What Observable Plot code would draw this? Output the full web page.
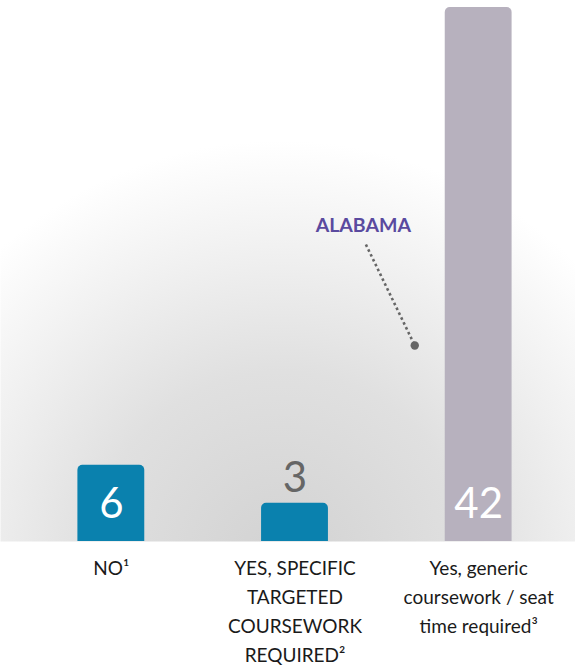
<!DOCTYPE html>
<html>
<head>
<meta charset="utf-8">
<script src="https://cdn.jsdelivr.net/npm/d3@7"></script>
<script src="https://cdn.jsdelivr.net/npm/@observablehq/plot@0.6"></script>
<style>
  html, body { margin: 0; padding: 0; background: #fff; }
  #chart svg { display: block; }
</style>
</head>
<body>
<div id="chart"></div>
<script>
// ---- data ----
const categories = [
  "NO\u00B9",
  "YES, SPECIFIC\nTARGETED\nCOURSEWORK\nREQUIRED\u00B2",
  "Yes, generic\ncoursework / seat\ntime required\u00B3"
];
const values = [6, 3, 42];
const barColors = ["#0a81ae", "#0a81ae", "#b7b1be"];
const annotationLabel = "ALABAMA";
const annotationText = [{x: 1.372, y: 24.85}];
const annotationLine = [{x1: 1.386, y1: 23.36, x2: 1.652, y2: 15.42}];

const data = values.map((v, i) => ({i, cat: categories[i], value: v, color: barColors[i]}));
const half = 0.182;

const svg = Plot.plot({
  width: 575,
  height: 668,
  marginTop: 7,
  marginBottom: 127,
  marginLeft: 19,
  marginRight: 5,
  style: {fontFamily: "Lato, sans-serif", background: "#fff"},
  x: {domain: [-0.5, 2.5], axis: null},
  y: {domain: [0, 42], axis: null},
  marks: [
    Plot.frame({fill: "url(#bgGrad)", stroke: null, insetLeft: -19, insetRight: -5, insetTop: -7}),
    Plot.rectY(data, {
      x1: d => d.i - half, x2: d => d.i + half, y1: 0, y2: "value",
      fill: "color", ry2: 5
    }),
    Plot.text(data.filter(d => d.value >= 5), {
      x: "i", y: 0, text: d => String(d.value), dy: -37,
      fill: "#fff", fontSize: 42, fontFamily: "Lato, sans-serif"
    }),
    Plot.text(data.filter(d => d.value < 5), {
      x: "i", y: "value", text: d => String(d.value), dy: -25,
      fill: "#666", fontSize: 42, fontFamily: "Lato, sans-serif"
    }),
    Plot.text(data, {
      x: "i", y: 0, text: "cat", lineAnchor: "top", dy: 13,
      lineHeight: 1.53, fontSize: 19, fill: "#1a1a1a", fontFamily: "Lato, sans-serif"
    }),
    Plot.link(annotationLine, {
      x1: "x1", y1: "y1", x2: "x2", y2: "y2",
      stroke: "#666", strokeWidth: 2.6, strokeDasharray: "2.6,2.8"
    }),
    Plot.dot(annotationLine, {x: "x2", y: "y2", r: 4.2, fill: "#666", stroke: null}),
    Plot.text(annotationText, {
      x: "x", y: "y", text: () => annotationLabel,
      fill: "#5a4a9f", fontSize: 19.5, fontWeight: "bold", fontFamily: "Lato, sans-serif"
    })
  ]
});

d3.select(svg).insert("defs", ":first-child").html(`
  <radialGradient id="bgGrad" gradientUnits="userSpaceOnUse" cx="280" cy="560" r="420">
    <stop offset="0" stop-color="#d2d2d2"/>
    <stop offset="0.45" stop-color="#e0e0e0"/>
    <stop offset="0.75" stop-color="#f1f1f1"/>
    <stop offset="1" stop-color="#ffffff"/>
  </radialGradient>`);

document.getElementById("chart").appendChild(svg);
</script>
</body>
</html>
